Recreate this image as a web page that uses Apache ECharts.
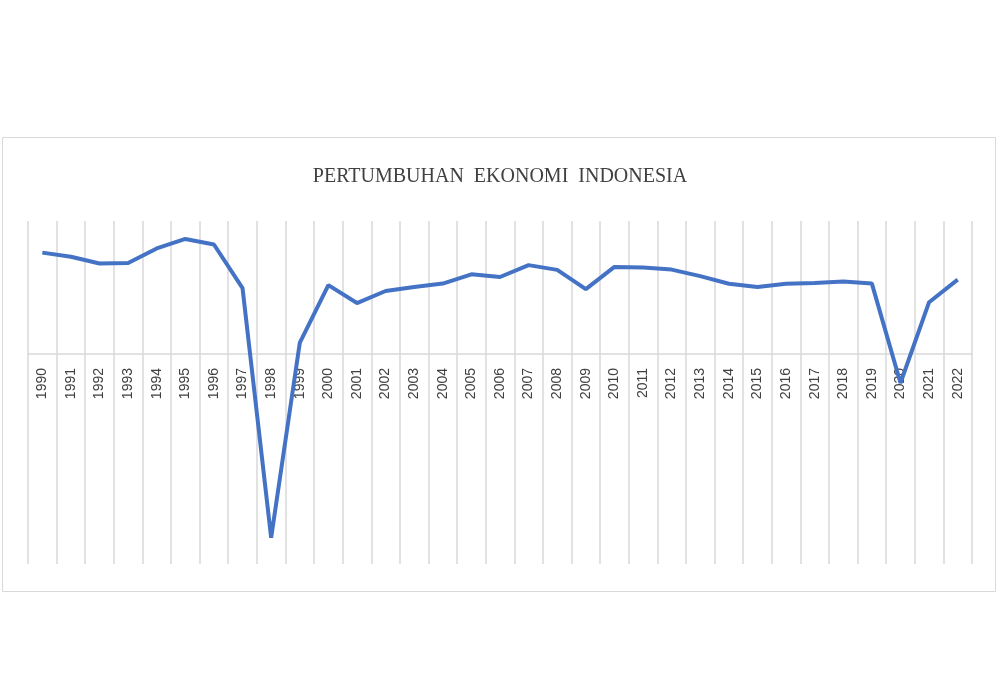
<!DOCTYPE html>
<html><head><meta charset="utf-8">
<script src="https://cdn.jsdelivr.net/npm/echarts@6/dist/echarts.min.js"></script>
<style>html,body{margin:0;padding:0;background:#fff}#c{width:1000px;height:700px}</style>
</head><body><div id="c"></div>
<script>
const years = ['1990','1991','1992','1993','1994','1995','1996','1997','1998','1999','2000','2001','2002','2003','2004','2005','2006','2007','2008','2009','2010','2011','2012','2013','2014','2015','2016','2017','2018','2019','2020','2021','2022'];
const growth = [7.24,6.95,6.46,6.5,7.54,8.22,7.82,4.7,-13.13,0.79,4.92,3.64,4.5,4.78,5.03,5.69,5.5,6.35,6.01,4.63,6.22,6.17,6.03,5.56,5.02,4.79,5.02,5.07,5.17,5.03,-2.07,3.7,5.31];
const chart = echarts.init(document.getElementById('c'));
chart.setOption({
  backgroundColor:'#fff',
  animation:false,
  graphic:[{type:'rect',shape:{x:2.5,y:137.5,width:993,height:454},style:{fill:'none',stroke:'#d9d9d9',lineWidth:1}}],
  title:{text:'PERTUMBUHAN  EKONOMI  INDONESIA',left:'center',top:162,textStyle:{fontFamily:'Liberation Serif',fontWeight:'normal',fontSize:20,color:'#404040'}},
  grid:{left:28,right:28,top:221,bottom:136},
  xAxis:{type:'category',data:years,boundaryGap:true,offset:-210,
    axisLine:{onZero:false,lineStyle:{color:'#d9d9d9',width:1.5}},
    axisTick:{show:false},
    splitLine:{show:true,interval:0,lineStyle:{color:'#d9d9d9',width:1.5}},
    axisLabel:{rotate:90,interval:0,fontSize:14,color:'#404040',fontFamily:'Liberation Sans',margin:14}},
  yAxis:{type:'value',min:-15,max:9.5,show:false,splitLine:{show:false}},
  series:[{type:'line',data:growth,symbol:'circle',symbolSize:1,showSymbol:true,itemStyle:{opacity:0},
    lineStyle:{color:'#4472C4',width:4},
    label:{show:true,position:'top',distance:0,offset:[29,0],rotate:90,align:'center',verticalAlign:'middle',
      fontSize:14,fontWeight:'bold',color:'#000',fontFamily:'Liberation Sans'}}]
});
</script></body></html>
